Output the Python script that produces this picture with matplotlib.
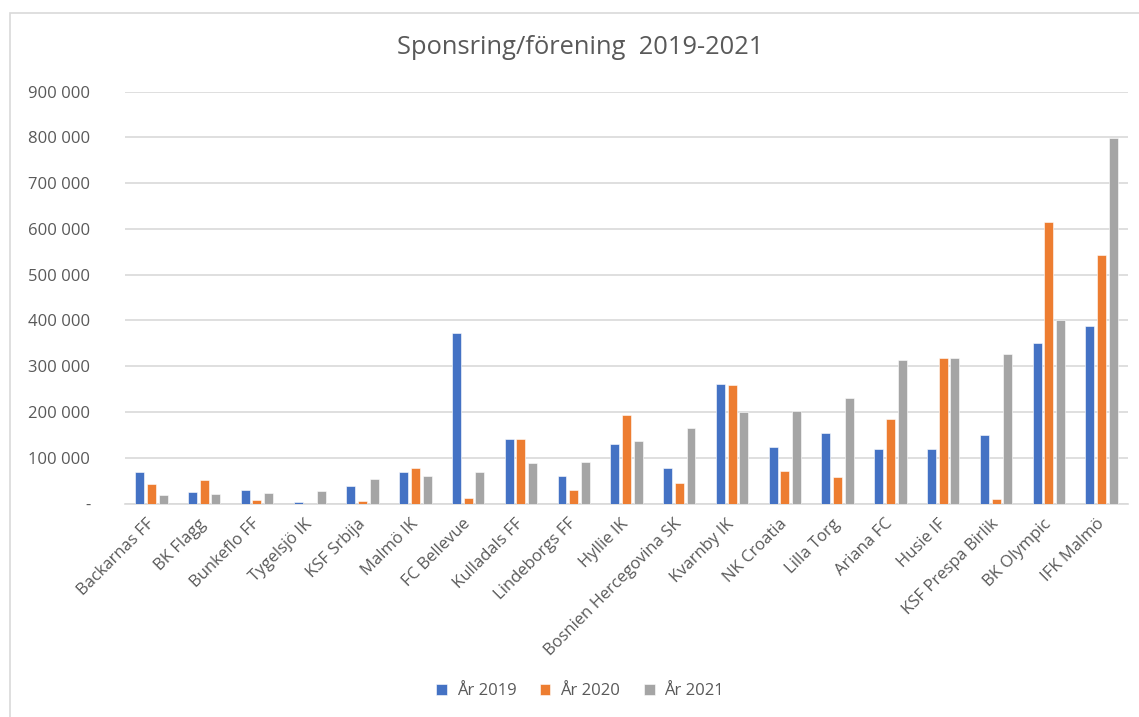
import matplotlib
matplotlib.use("Agg")
import matplotlib.pyplot as plt
from matplotlib.patches import Rectangle
import numpy as np

plt.rcParams['font.family'] = ['Open Sans', 'DejaVu Sans']

categories = ["Backarnas FF", "BK Flagg", "Bunkeflo FF", "Tygelsjö IK", "KSF Srbija",
              "Malmö IK", "FC Bellevue", "Kulladals FF", "Lindeborgs FF", "Hyllie IK",
              "Bosnien Hercegovina SK", "Kvarnby IK", "NK Croatia", "Lilla Torg",
              "Ariana FC", "Husie IF", "KSF Prespa Birlik", "BK Olympic", "IFK Malmö"]
ar2019 = [69000, 25000, 29000, 3600, 38000, 69000, 373000, 140000, 60000, 131000,
          78000, 262000, 124000, 155000, 120000, 120000, 149000, 350000, 388000]
ar2020 = [43000, 51000, 7000, 0, 5000, 78000, 13000, 140000, 29000, 193000,
          45000, 258000, 71000, 58000, 185000, 318000, 9500, 614000, 543000]
ar2021 = [18000, 20000, 23000, 27000, 53000, 60000, 69000, 89000, 91000, 136000,
          165000, 200000, 202000, 231000, 313000, 318000, 326000, 400000, 799000]
series_names = ["År 2019", "År 2020", "År 2021"]
colors = ["#4472C4", "#ED7D31", "#A5A5A5"]
yticks = [0, 100000, 200000, 300000, 400000, 500000, 600000, 700000, 800000, 900000]

txt = "#595959"
fig = plt.figure(figsize=(11.39, 7.17), dpi=100)
# chart border (top/left visible)
fig.patches.append(Rectangle((10/1139, -0.1), 1.2, 1 - 13/717 + 0.1, transform=fig.transFigure,
                             fill=False, edgecolor="#D9D9D9", linewidth=1.2))

ax = fig.add_axes([125/1139, 1 - 503.5/717, (1128 - 125)/1139, (503.5 - 91.5)/717])
x = np.arange(len(categories))
w = 0.17
off = 0.222
for i, (vals, name, c) in enumerate(zip([ar2019, ar2020, ar2021], series_names, colors)):
    ax.bar(x + (i - 1) * off, vals, width=w, color=c, label=name, zorder=3,
           edgecolor="white", linewidth=0.4)

ax.set_xlim(-0.5, len(categories) - 0.5)
ax.set_ylim(0, 900000)
ax.set_yticks(yticks)
ax.set_yticklabels(["-" if v == 0 else f"{v:,}".replace(",", " ") for v in yticks])
ax.grid(axis="y", color="#D9D9D9", linewidth=1.2, zorder=0)
for s in ["top", "right", "left"]:
    ax.spines[s].set_visible(False)
ax.spines["bottom"].set_color("#D9D9D9")
ax.spines["bottom"].set_linewidth(1.2)
ax.tick_params(axis="y", length=0, pad=25, labelsize=12, labelcolor=txt)
ax.tick_params(axis="x", length=0, pad=13, labelsize=12, labelcolor=txt)
ax.set_xticks(x)
ax.set_xticklabels(categories, rotation=45, ha="right", va="center", rotation_mode="anchor")

fig.text(580/1139, 1 - 48/717, "Sponsring/förening  2019-2021", ha="center", va="center",
         fontsize=18.4, color=txt)

fig.legend(loc="center", bbox_to_anchor=(580/1139, 1 - 691/717), ncol=3, frameon=False,
           fontsize=12, labelcolor=txt, handlelength=0.65, handleheight=0.65,
           columnspacing=1.4, handletextpad=0.6)

fig.savefig("out.png", dpi=100)
